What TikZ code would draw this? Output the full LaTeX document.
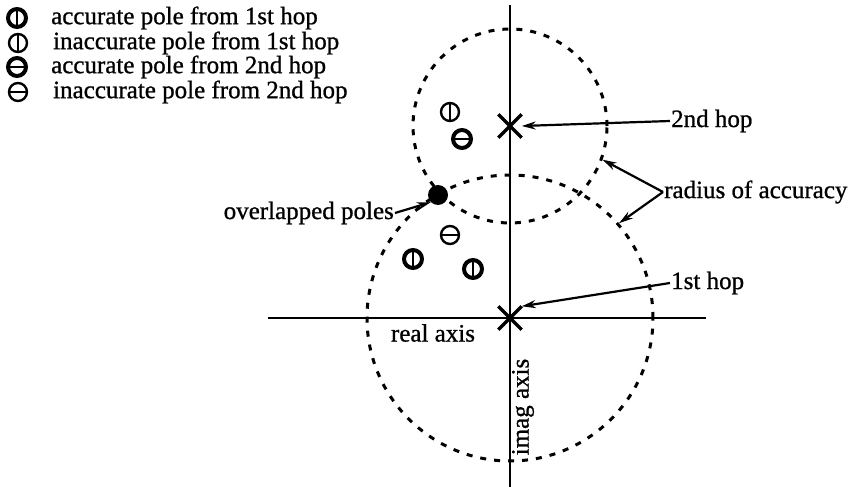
\documentclass[tikz,border=0pt]{standalone}
\usepackage{fontspec}
\setmainfont{Liberation Serif}[FakeBold=0.9]
\usetikzlibrary{arrows.meta,shapes.misc}
\begin{document}
\begin{tikzpicture}[x=1pt,y=-1pt,
  lbl/.style={font=\fontsize{25}{27}\selectfont, inner sep=1pt},
  axisline/.style={line width=2.8pt},
  acc/.style={dash pattern=on 6pt off 8pt, line width=3pt, circle, draw, inner sep=0pt},
  xmark/.style={cross out, draw, line width=3.4pt, minimum size=20pt, inner sep=0pt},
  arr/.style={line width=2.2pt, -{Stealth[length=14pt,width=8pt]}},
  polebase/.style={circle, draw, minimum size=18pt, inner sep=0pt},
  vbar/.style={path picture={\draw[line width=2.2pt] (path picture bounding box.north) -- (path picture bounding box.south);}},
  hbar/.style={path picture={\draw[line width=2.8pt] (path picture bounding box.west) -- (path picture bounding box.east);}},
  accphi/.style={polebase, vbar, line width=4pt},
  inaccphi/.style={polebase, vbar, line width=2.4pt},
  acctheta/.style={polebase, hbar, line width=4pt},
  inacctheta/.style={polebase, hbar, line width=2.4pt},
  overlap/.style={circle, fill=black, minimum size=20pt, inner sep=0pt}
]
\useasboundingbox (0,0) rectangle (862,487);
% axes
\coordinate (vtop) at (510,5);
\coordinate (vbot) at (510,487);
\coordinate (hleft) at (268,318);
\coordinate (hright) at (706,318);
\draw[axisline] (vtop) -- (vbot);
\draw[axisline] (hleft) -- (hright);
% circles
\node[acc, minimum size=286pt] (lowc) at (510,318) {};
\node[acc, minimum size=194pt] (upc) at (510,126) {};
% hops
\node[xmark] (x1) at (510,318) {};
\node[xmark] (x2) at (510,126) {};
% poles
\node[accphi] (p1) at (413,259) {};
\node[accphi] (p2) at (473,269) {};
\node[inacctheta] (p3) at (450,235) {};
\node[overlap] (p4) at (438,195) {};
\node[inaccphi] (p5) at (450,112) {};
\node[acctheta] (p6) at (462,139) {};
% legend
\node[accphi] (l1) at (17,18) {};
\node[inaccphi] (l2) at (18,43) {};
\node[acctheta] (l3) at (17,67) {};
\node[inacctheta] (l4) at (18,92) {};
\node[lbl, anchor=west] (t1) at (50,18) {accurate pole from 1st hop};
\node[lbl, anchor=west] (t2) at (52,43) {inaccurate pole from 1st hop};
\node[lbl, anchor=west] (t3) at (50,67) {accurate pole from 2nd hop};
\node[lbl, anchor=west] (t4) at (52,92) {inaccurate pole from 2nd hop};
% labels
\node[lbl, anchor=west] (h2) at (670,121) {2nd hop};
\node[lbl, anchor=west] (h1) at (670,283) {1st hop};
\node[lbl, anchor=west] (ra) at (663,192) {radius of accuracy};
\node[lbl, anchor=east] (op) at (395,213) {overlapped poles};
\node[lbl] (re) at (433,333) {real axis};
\node[lbl, rotate=90] (im) at (523,407) {imag axis};
% arrows
\draw[arr] (h2.west) -- (x2.east);
\draw[arr] (h1.west) -- (x1.north east);
\draw[arr] (op.east) -- (p4.south west);
\draw[arr] (ra.west) -- (upc.-20);
\draw[arr] (ra.west) -- (lowc.41);
\end{tikzpicture}
\end{document}
